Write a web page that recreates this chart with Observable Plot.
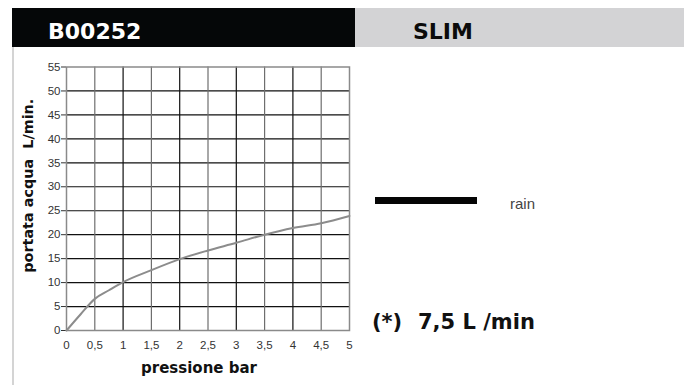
<!DOCTYPE html>
<html>
<head>
<meta charset="utf-8">
<script src="https://cdn.jsdelivr.net/npm/d3@7"></script>
<script src="https://cdn.jsdelivr.net/npm/@observablehq/plot@0.6"></script>
<style>
  body { margin: 0; background: #fff; }
  #wrap { position: relative; width: 684px; height: 385px; overflow: hidden; background: #fff; }
  #wrap > div.abs { position: absolute; white-space: pre; line-height: 1; }
  #chart { position: absolute; left: 0; top: 0; }
</style>
</head>
<body>
<div id="wrap">
  <div id="chart"></div>
  <div class="abs" style="left:12px;top:7.5px;width:343px;height:39px;background:#050708;"></div>
  <div class="abs" style="left:355px;top:7.5px;width:329px;height:39px;background:#d3d3d5;"></div>
  <div class="abs" style="left:12px;top:46.5px;width:2px;height:340px;background:#d4d4d4;"></div>
  <div class="abs" id="code" style="left:48px;top:19.4px;font:bold 22px 'DejaVu Sans';color:#fff;"></div>
  <div class="abs" id="name" style="left:413px;top:19.4px;font:bold 22px 'DejaVu Sans';color:#0b0b0b;"></div>
  <div class="abs" style="left:374.5px;top:197px;width:102px;height:7px;background:#050505;"></div>
  <div class="abs" id="series" style="left:510px;top:194.6px;font:15px 'Liberation Sans';color:#444;"></div>
  <div class="abs" id="noteA" style="left:372px;top:309.5px;font:bold 21px 'DejaVu Sans';color:#111;"></div>
  <div class="abs" id="noteB" style="left:418px;top:309.5px;font:bold 21px 'DejaVu Sans';color:#111;"></div>
</div>
<script>
// ---- data ----
const productCode = "B00252";
const productName = "SLIM";
const seriesName = "rain";
const noteMark = "(*)";
const noteValue = "7,5 L /min";
const xLabel = "pressione bar";
const yLabel = "portata acqua\u00a0 L/min.";

const pressure = [0, 0.25, 0.5, 0.75, 1, 1.5, 2, 2.5, 3, 3.5, 4, 4.5, 5];
const flow     = [0, 3.4, 6.6, 8.4, 10.1, 12.6, 14.9, 16.7, 18.3, 20.0, 21.4, 22.4, 23.9];

const xTicks = [0, 0.5, 1, 1.5, 2, 2.5, 3, 3.5, 4, 4.5, 5];
const yTicks = [0, 5, 10, 15, 20, 25, 30, 35, 40, 45, 50, 55];

// ---- texts ----
document.getElementById("code").textContent = productCode;
document.getElementById("name").textContent = productName;
document.getElementById("series").textContent = seriesName;
document.getElementById("noteA").textContent = noteMark;
document.getElementById("noteB").textContent = noteValue;

const data = pressure.map((p, i) => ({p, q: flow[i]}));
const fmt = d => String(d).replace(".", ",");

const chart = Plot.plot({
  width: 684,
  height: 385,
  marginLeft: 66,
  marginRight: 335,
  marginTop: 66.5,
  marginBottom: 55,
  style: {background: "transparent", fontFamily: "'Liberation Sans', Arial, sans-serif", fontSize: "11.5px", color: "#333"},
  x: {domain: [0, 5], ticks: xTicks, tickFormat: fmt, tickSize: 0, tickPadding: 10, label: null},
  y: {domain: [0, 55], ticks: yTicks, tickSize: 5, tickPadding: 1, label: null},
  marks: [
    Plot.ruleY(yTicks.filter(d => d > 0 && d < 55), {stroke: "#111", strokeWidth: 1.2}),
    Plot.ruleX(xTicks.filter(d => d > 0 && d < 5 && !Number.isInteger(d)), {stroke: "#6e6e6e", strokeWidth: 1.2}),
    Plot.ruleX(xTicks.filter(d => d > 0 && d < 5 && Number.isInteger(d)), {stroke: "#111", strokeWidth: 1.2}),
    Plot.frame({stroke: "#8a8a8a", strokeWidth: 1.5}),
    Plot.line(data, {x: "p", y: "q", stroke: "#8c8c8c", strokeWidth: 2, curve: "monotone-x"}),
    Plot.text([xLabel], {frameAnchor: "bottom", textAnchor: "middle", dx: -9, dy: 38, text: d => d, fontFamily: "DejaVu Sans", fontWeight: "bold", fontSize: 15, fill: "#111", lineAnchor: "middle"}),
    Plot.text([yLabel], {frameAnchor: "left", textAnchor: "middle", dx: -38, dy: -13, rotate: -90, text: d => d, fontFamily: "DejaVu Sans", fontWeight: "bold", fontSize: 14.4, fill: "#111", lineAnchor: "middle"})
  ]
});
document.getElementById("chart").appendChild(chart);
</script>
</body>
</html>
